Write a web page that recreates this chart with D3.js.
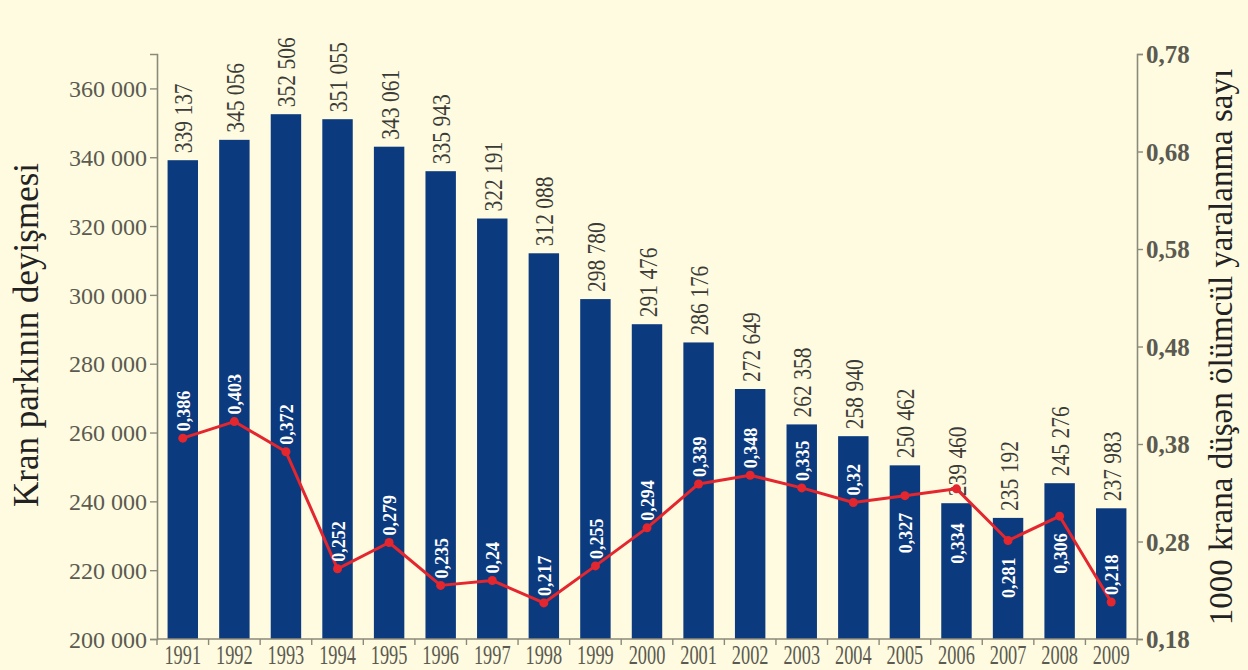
<!DOCTYPE html>
<html>
<head>
<meta charset="utf-8">
<script src="https://cdn.jsdelivr.net/npm/d3@7/dist/d3.min.js"></script>
<style>
  html, body { margin: 0; padding: 0; background: #fefbe0; }
  svg { display: block; }
  svg text { font-family: "Liberation Serif", "Times New Roman", Times, "DejaVu Serif", serif !important; }
</style>
</head>
<body>
<svg id="chart" width="1248" height="670"></svg>
<script>
// Crane fleet size per year and fatal injuries per 1000 cranes
const years = ["1991","1992","1993","1994","1995","1996","1997","1998","1999","2000",
               "2001","2002","2003","2004","2005","2006","2007","2008","2009"];
const cranes = [339137, 345056, 352506, 351055, 343061, 335943, 322191, 312088, 298780, 291476,
                286176, 272649, 262358, 258940, 250462, 239460, 235192, 245276, 237983];
const rates = [0.386, 0.403, 0.372, 0.252, 0.279, 0.235, 0.24, 0.217, 0.255, 0.294,
               0.339, 0.348, 0.335, 0.32, 0.327, 0.334, 0.281, 0.306, 0.218];
const leftTicks = [200000, 220000, 240000, 260000, 280000, 300000, 320000, 340000, 360000];
const rightTicks = [0.18, 0.28, 0.38, 0.48, 0.58, 0.68, 0.78];
const leftTitle = "Kran parkının deyişmesi";
const rightTitle = "1000 krana düşən ölümcül yaralanma sayı";

const svg = d3.select("#chart");
const W = 1248, H = 670;
const m = { left: 157, right: 1137, top: 54, bottom: 639 };

const BG = "#fefbe0", BAR = "#0c3a7f", RED = "#e4262e",
      AXIS = "#8b8a7a", TICKTXT = "#5b5a50", LABEL = "#3a3a36";

svg.append("rect").attr("width", W).attr("height", H).attr("fill", BG);

const x = d3.scaleBand().domain(years).range([m.left, m.right])
  .paddingInner(0.41).paddingOuter(0.205);
const yL = d3.scaleLinear().domain([200000, 370000]).range([m.bottom, m.top]);
const yR = d3.scaleLinear().domain([0.18, 0.78]).range([m.bottom, m.top]);

const loc = d3.formatLocale({ decimal: ",", thousands: " ", grouping: [3], currency: ["", ""] });
const fmtInt = loc.format(",");
const fmtRate = v => String(v).replace(".", ",");
const fmtTick = loc.format(".2f");

// Bars
const bw = x.bandwidth();
svg.append("g").selectAll("rect").data(years).join("rect")
  .attr("x", d => x(d))
  .attr("y", (d, i) => yL(cranes[i]))
  .attr("width", bw)
  .attr("height", (d, i) => yL(200000) - yL(cranes[i]))
  .attr("fill", BAR);

// Left axis
const gL = svg.append("g").attr("transform", `translate(${m.left},0)`)
  .call(d3.axisLeft(yL).tickValues(leftTicks).tickFormat(fmtInt).tickSize(7).tickPadding(3));
gL.attr("font-family", null);
gL.select(".domain").attr("stroke", AXIS).attr("stroke-width", 1.6);
gL.selectAll(".tick line").attr("stroke", AXIS).attr("stroke-width", 1.4);
gL.selectAll(".tick text").attr("fill", TICKTXT).attr("font-size", 24).attr("dy", "0.34em");

// Right axis
const gR = svg.append("g").attr("transform", `translate(${m.right},0)`)
  .call(d3.axisRight(yR).tickValues(rightTicks).tickFormat(fmtTick).tickSize(6).tickPadding(3));
gR.attr("font-family", null);
gR.select(".domain").attr("stroke", AXIS).attr("stroke-width", 1.6);
gR.selectAll(".tick line").attr("stroke", AXIS).attr("stroke-width", 1.4);
gR.selectAll(".tick text").attr("fill", TICKTXT).attr("font-size", 25).attr("font-weight", "bold")
  .attr("dy", "0.34em");

// Bottom axis: ticks on band boundaries, year labels centred on bars
const bounds = d3.range(years.length + 1).map(k => m.left + k * (m.right - m.left) / years.length);
svg.append("line").attr("x1", m.left).attr("x2", m.right)
  .attr("y1", m.bottom).attr("y2", m.bottom).attr("stroke", AXIS).attr("stroke-width", 1.6);
svg.append("g").selectAll("line").data(bounds).join("line")
  .attr("x1", d => d).attr("x2", d => d)
  .attr("y1", m.bottom).attr("y2", m.bottom + 6)
  .attr("stroke", AXIS).attr("stroke-width", 1.4);
svg.append("g").selectAll("text").data(years).join("text")
  .attr("transform", d => `translate(${x(d) + bw / 2},664) scale(0.68,1)`)
  .attr("text-anchor", "middle").attr("font-size", 27).attr("fill", TICKTXT)
  .text(d => d);

// Crane count labels above bars
svg.append("g").selectAll("text").data(years).join("text")
  .attr("transform", (d, i) => `translate(${x(d) + bw / 2 + 1},${yL(cranes[i]) - 7}) rotate(-90) scale(0.86,1)`)
  .attr("dy", "0.34em").attr("font-size", 25).attr("fill", LABEL)
  .text((d, i) => fmtInt(cranes[i]));

// Fatality rate line
const line = d3.line().x((d, i) => x(years[i]) + bw / 2).y(d => yR(d));
svg.append("path").datum(rates).attr("d", line)
  .attr("fill", "none").attr("stroke", RED).attr("stroke-width", 3).attr("stroke-linejoin", "round");
svg.append("g").selectAll("circle").data(rates).join("circle")
  .attr("cx", (d, i) => x(years[i]) + bw / 2).attr("cy", d => yR(d)).attr("r", 4.5).attr("fill", RED);

// Rate labels inside bars: above the marker when they fit inside the bar, otherwise below
const rateLabels = svg.append("g").selectAll("text").data(rates).join("text")
  .attr("font-size", 18).attr("font-weight", "bold").attr("fill", "#ffffff")
  .attr("text-anchor", "start").attr("dy", "0.34em")
  .text(d => fmtRate(d));
rateLabels.each(function (d, i) {
  const len = this.getComputedTextLength();
  const py = yR(d), top = yL(cranes[i]);
  const cx = x(years[i]) + bw / 2 + 1;
  let startY;
  if (py - 7 - len >= top + 5) {
    startY = py - 7;            // text runs upward from here
  } else {
    startY = Math.max(py + 17, top + 20) + len;
  }
  d3.select(this).attr("transform", `translate(${cx},${startY}) rotate(-90)`);
});

// Axis titles
svg.append("text").attr("transform", "translate(38,335) rotate(-90)")
  .attr("text-anchor", "middle").attr("font-size", 35).attr("fill", "#222")
  .text(leftTitle);
svg.append("text").attr("transform", "translate(1232,347) rotate(-90)")
  .attr("text-anchor", "middle").attr("font-size", 33).attr("fill", "#222")
  .text(rightTitle);
</script>
</body>
</html>
